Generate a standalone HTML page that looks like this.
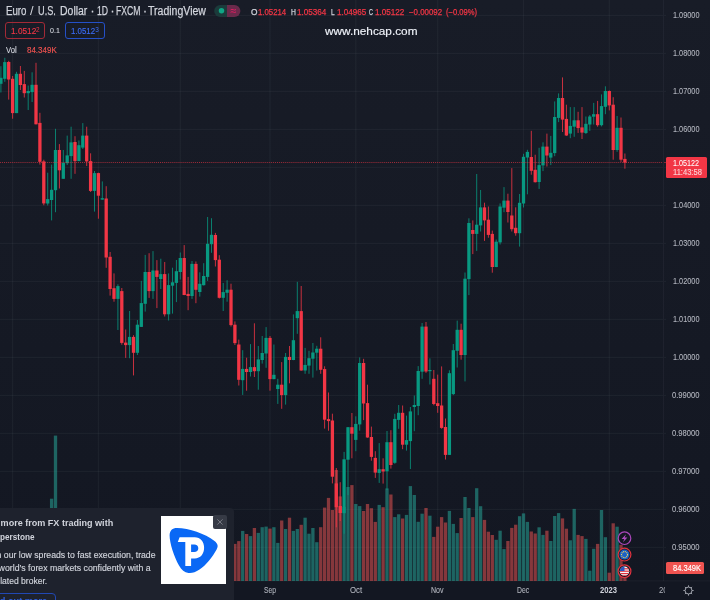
<!DOCTYPE html>
<html lang="en"><head><meta charset="utf-8"><title>EURUSD 1D</title>
<style>
html{margin:0;padding:0;background:#131722;}
body{margin:0;padding:0;background:linear-gradient(to bottom,#181c27 0px,#131722 585px,#131722 600px);}
body{width:710px;height:600px;position:relative;overflow:hidden;font-family:"Liberation Sans",sans-serif;color:#d1d4dc;}
.abs{position:absolute;white-space:nowrap;}
.t{position:absolute;white-space:pre;transform-origin:0 0;}
#chart{position:absolute;left:0;top:0;width:710px;height:600px;}
.box{position:absolute;top:22.3px;height:14.7px;width:38.2px;border:1px solid;border-radius:3px;}
#ad{position:absolute;left:0;top:507.5px;width:233.6px;height:110px;background:#1e222d;border-radius:0 4px 0 0;overflow:hidden;}
</style></head><body>
<svg id="chart" width="710" height="600" viewBox="0 0 710 600">
<rect x="0" y="14.80" width="663" height="1.3" fill="rgba(240,243,250,0.04)"/>
<rect x="0" y="52.80" width="663" height="1.3" fill="rgba(240,243,250,0.04)"/>
<rect x="0" y="90.80" width="663" height="1.3" fill="rgba(240,243,250,0.04)"/>
<rect x="0" y="128.80" width="663" height="1.3" fill="rgba(240,243,250,0.04)"/>
<rect x="0" y="166.80" width="663" height="1.3" fill="rgba(240,243,250,0.04)"/>
<rect x="0" y="204.80" width="663" height="1.3" fill="rgba(240,243,250,0.04)"/>
<rect x="0" y="242.80" width="663" height="1.3" fill="rgba(240,243,250,0.04)"/>
<rect x="0" y="280.80" width="663" height="1.3" fill="rgba(240,243,250,0.04)"/>
<rect x="0" y="318.80" width="663" height="1.3" fill="rgba(240,243,250,0.04)"/>
<rect x="0" y="356.80" width="663" height="1.3" fill="rgba(240,243,250,0.04)"/>
<rect x="0" y="394.80" width="663" height="1.3" fill="rgba(240,243,250,0.04)"/>
<rect x="0" y="432.80" width="663" height="1.3" fill="rgba(240,243,250,0.04)"/>
<rect x="0" y="470.80" width="663" height="1.3" fill="rgba(240,243,250,0.04)"/>
<rect x="0" y="508.80" width="663" height="1.3" fill="rgba(240,243,250,0.04)"/>
<rect x="0" y="546.80" width="663" height="1.3" fill="rgba(240,243,250,0.04)"/>
<rect x="11.95" y="0" width="1.3" height="581" fill="rgba(240,243,250,0.04)"/>
<rect x="97.75" y="0" width="1.3" height="581" fill="rgba(240,243,250,0.04)"/>
<rect x="179.65" y="0" width="1.3" height="581" fill="rgba(240,243,250,0.04)"/>
<rect x="269.35" y="0" width="1.3" height="581" fill="rgba(240,243,250,0.04)"/>
<rect x="355.15" y="0" width="1.3" height="581" fill="rgba(240,243,250,0.04)"/>
<rect x="437.05" y="0" width="1.3" height="581" fill="rgba(240,243,250,0.04)"/>
<rect x="522.85" y="0" width="1.3" height="581" fill="rgba(240,243,250,0.04)"/>
<rect x="608.65" y="0" width="1.3" height="581" fill="rgba(240,243,250,0.04)"/>
<rect x="49.95" y="498.7" width="3.3" height="82.3" fill="rgba(39,177,162,0.5)"/>
<rect x="53.85" y="435.6" width="3.3" height="145.4" fill="rgba(39,177,162,0.5)"/>
<rect x="233.25" y="543.9" width="3.3" height="37.1" fill="rgba(247,87,86,0.5)"/>
<rect x="237.15" y="541.1" width="3.3" height="39.9" fill="rgba(247,87,86,0.5)"/>
<rect x="241.05" y="530.9" width="3.3" height="50.1" fill="rgba(39,177,162,0.5)"/>
<rect x="244.95" y="534.0" width="3.3" height="47.0" fill="rgba(247,87,86,0.5)"/>
<rect x="248.85" y="536.1" width="3.3" height="44.9" fill="rgba(39,177,162,0.5)"/>
<rect x="252.75" y="528.0" width="3.3" height="53.0" fill="rgba(247,87,86,0.5)"/>
<rect x="256.65" y="532.9" width="3.3" height="48.1" fill="rgba(39,177,162,0.5)"/>
<rect x="260.55" y="527.2" width="3.3" height="53.8" fill="rgba(39,177,162,0.5)"/>
<rect x="264.45" y="526.6" width="3.3" height="54.4" fill="rgba(39,177,162,0.5)"/>
<rect x="268.35" y="528.6" width="3.3" height="52.4" fill="rgba(247,87,86,0.5)"/>
<rect x="272.25" y="527.2" width="3.3" height="53.8" fill="rgba(39,177,162,0.5)"/>
<rect x="276.15" y="542.9" width="3.3" height="38.1" fill="rgba(39,177,162,0.5)"/>
<rect x="280.05" y="520.5" width="3.3" height="60.5" fill="rgba(247,87,86,0.5)"/>
<rect x="283.95" y="529.0" width="3.3" height="52.0" fill="rgba(39,177,162,0.5)"/>
<rect x="287.85" y="517.7" width="3.3" height="63.3" fill="rgba(247,87,86,0.5)"/>
<rect x="291.75" y="530.9" width="3.3" height="50.1" fill="rgba(39,177,162,0.5)"/>
<rect x="295.65" y="529.0" width="3.3" height="52.0" fill="rgba(39,177,162,0.5)"/>
<rect x="299.55" y="524.8" width="3.3" height="56.2" fill="rgba(247,87,86,0.5)"/>
<rect x="303.45" y="517.7" width="3.3" height="63.3" fill="rgba(39,177,162,0.5)"/>
<rect x="307.35" y="533.7" width="3.3" height="47.3" fill="rgba(39,177,162,0.5)"/>
<rect x="311.25" y="528.0" width="3.3" height="53.0" fill="rgba(39,177,162,0.5)"/>
<rect x="315.15" y="542.2" width="3.3" height="38.8" fill="rgba(39,177,162,0.5)"/>
<rect x="319.05" y="527.2" width="3.3" height="53.8" fill="rgba(247,87,86,0.5)"/>
<rect x="322.95" y="507.6" width="3.3" height="73.4" fill="rgba(247,87,86,0.5)"/>
<rect x="326.85" y="497.9" width="3.3" height="83.1" fill="rgba(247,87,86,0.5)"/>
<rect x="330.75" y="510.0" width="3.3" height="71.0" fill="rgba(247,87,86,0.5)"/>
<rect x="334.65" y="470.0" width="3.3" height="111.0" fill="rgba(247,87,86,0.5)"/>
<rect x="338.55" y="496.4" width="3.3" height="84.6" fill="rgba(247,87,86,0.5)"/>
<rect x="342.45" y="507.0" width="3.3" height="74.0" fill="rgba(39,177,162,0.5)"/>
<rect x="346.35" y="487.0" width="3.3" height="94.0" fill="rgba(39,177,162,0.5)"/>
<rect x="350.25" y="485.1" width="3.3" height="95.9" fill="rgba(247,87,86,0.5)"/>
<rect x="354.15" y="504.0" width="3.3" height="77.0" fill="rgba(39,177,162,0.5)"/>
<rect x="358.05" y="506.1" width="3.3" height="74.9" fill="rgba(39,177,162,0.5)"/>
<rect x="361.95" y="511.0" width="3.3" height="70.0" fill="rgba(247,87,86,0.5)"/>
<rect x="365.85" y="504.0" width="3.3" height="77.0" fill="rgba(247,87,86,0.5)"/>
<rect x="369.75" y="508.2" width="3.3" height="72.8" fill="rgba(247,87,86,0.5)"/>
<rect x="373.65" y="521.9" width="3.3" height="59.1" fill="rgba(247,87,86,0.5)"/>
<rect x="377.55" y="504.9" width="3.3" height="76.1" fill="rgba(39,177,162,0.5)"/>
<rect x="381.45" y="507.2" width="3.3" height="73.8" fill="rgba(247,87,86,0.5)"/>
<rect x="385.35" y="488.4" width="3.3" height="92.6" fill="rgba(39,177,162,0.5)"/>
<rect x="389.25" y="494.5" width="3.3" height="86.5" fill="rgba(247,87,86,0.5)"/>
<rect x="393.15" y="517.1" width="3.3" height="63.9" fill="rgba(39,177,162,0.5)"/>
<rect x="397.05" y="514.3" width="3.3" height="66.7" fill="rgba(39,177,162,0.5)"/>
<rect x="400.95" y="518.5" width="3.3" height="62.5" fill="rgba(247,87,86,0.5)"/>
<rect x="404.85" y="514.9" width="3.3" height="66.1" fill="rgba(39,177,162,0.5)"/>
<rect x="408.75" y="486.1" width="3.3" height="94.9" fill="rgba(39,177,162,0.5)"/>
<rect x="412.65" y="495.0" width="3.3" height="86.0" fill="rgba(39,177,162,0.5)"/>
<rect x="416.55" y="521.8" width="3.3" height="59.2" fill="rgba(39,177,162,0.5)"/>
<rect x="420.45" y="513.7" width="3.3" height="67.3" fill="rgba(39,177,162,0.5)"/>
<rect x="424.35" y="508.0" width="3.3" height="73.0" fill="rgba(247,87,86,0.5)"/>
<rect x="428.25" y="515.7" width="3.3" height="65.3" fill="rgba(39,177,162,0.5)"/>
<rect x="432.15" y="536.9" width="3.3" height="44.1" fill="rgba(247,87,86,0.5)"/>
<rect x="436.05" y="526.7" width="3.3" height="54.3" fill="rgba(247,87,86,0.5)"/>
<rect x="439.95" y="517.1" width="3.3" height="63.9" fill="rgba(247,87,86,0.5)"/>
<rect x="443.85" y="522.5" width="3.3" height="58.5" fill="rgba(247,87,86,0.5)"/>
<rect x="447.75" y="510.9" width="3.3" height="70.1" fill="rgba(39,177,162,0.5)"/>
<rect x="451.65" y="523.9" width="3.3" height="57.1" fill="rgba(39,177,162,0.5)"/>
<rect x="455.55" y="533.1" width="3.3" height="47.9" fill="rgba(39,177,162,0.5)"/>
<rect x="459.45" y="518.0" width="3.3" height="63.0" fill="rgba(247,87,86,0.5)"/>
<rect x="463.35" y="497.0" width="3.3" height="84.0" fill="rgba(39,177,162,0.5)"/>
<rect x="467.25" y="508.0" width="3.3" height="73.0" fill="rgba(39,177,162,0.5)"/>
<rect x="471.15" y="517.1" width="3.3" height="63.9" fill="rgba(247,87,86,0.5)"/>
<rect x="475.05" y="488.2" width="3.3" height="92.8" fill="rgba(39,177,162,0.5)"/>
<rect x="478.95" y="506.2" width="3.3" height="74.8" fill="rgba(39,177,162,0.5)"/>
<rect x="482.85" y="519.9" width="3.3" height="61.1" fill="rgba(247,87,86,0.5)"/>
<rect x="486.75" y="531.7" width="3.3" height="49.3" fill="rgba(247,87,86,0.5)"/>
<rect x="490.65" y="535.0" width="3.3" height="46.0" fill="rgba(247,87,86,0.5)"/>
<rect x="494.55" y="539.8" width="3.3" height="41.2" fill="rgba(39,177,162,0.5)"/>
<rect x="498.45" y="530.7" width="3.3" height="50.3" fill="rgba(39,177,162,0.5)"/>
<rect x="502.35" y="549.1" width="3.3" height="31.9" fill="rgba(39,177,162,0.5)"/>
<rect x="506.25" y="541.0" width="3.3" height="40.0" fill="rgba(247,87,86,0.5)"/>
<rect x="510.15" y="527.9" width="3.3" height="53.1" fill="rgba(247,87,86,0.5)"/>
<rect x="514.05" y="524.7" width="3.3" height="56.3" fill="rgba(247,87,86,0.5)"/>
<rect x="517.95" y="516.2" width="3.3" height="64.8" fill="rgba(39,177,162,0.5)"/>
<rect x="521.85" y="513.4" width="3.3" height="67.6" fill="rgba(39,177,162,0.5)"/>
<rect x="525.75" y="521.9" width="3.3" height="59.1" fill="rgba(39,177,162,0.5)"/>
<rect x="529.65" y="531.5" width="3.3" height="49.5" fill="rgba(247,87,86,0.5)"/>
<rect x="533.55" y="533.5" width="3.3" height="47.5" fill="rgba(247,87,86,0.5)"/>
<rect x="537.45" y="527.3" width="3.3" height="53.7" fill="rgba(39,177,162,0.5)"/>
<rect x="541.35" y="534.9" width="3.3" height="46.1" fill="rgba(39,177,162,0.5)"/>
<rect x="545.25" y="530.7" width="3.3" height="50.3" fill="rgba(247,87,86,0.5)"/>
<rect x="549.15" y="541.0" width="3.3" height="40.0" fill="rgba(39,177,162,0.5)"/>
<rect x="553.05" y="516.0" width="3.3" height="65.0" fill="rgba(39,177,162,0.5)"/>
<rect x="556.95" y="513.1" width="3.3" height="67.9" fill="rgba(39,177,162,0.5)"/>
<rect x="560.85" y="518.4" width="3.3" height="62.6" fill="rgba(247,87,86,0.5)"/>
<rect x="564.75" y="528.7" width="3.3" height="52.3" fill="rgba(247,87,86,0.5)"/>
<rect x="568.65" y="540.3" width="3.3" height="40.7" fill="rgba(39,177,162,0.5)"/>
<rect x="572.55" y="508.9" width="3.3" height="72.1" fill="rgba(39,177,162,0.5)"/>
<rect x="576.45" y="534.9" width="3.3" height="46.1" fill="rgba(247,87,86,0.5)"/>
<rect x="580.35" y="536.1" width="3.3" height="44.9" fill="rgba(247,87,86,0.5)"/>
<rect x="584.25" y="538.9" width="3.3" height="42.1" fill="rgba(39,177,162,0.5)"/>
<rect x="588.15" y="570.7" width="3.3" height="10.3" fill="rgba(39,177,162,0.5)"/>
<rect x="592.05" y="548.8" width="3.3" height="32.2" fill="rgba(39,177,162,0.5)"/>
<rect x="595.95" y="543.9" width="3.3" height="37.1" fill="rgba(247,87,86,0.5)"/>
<rect x="599.85" y="510.0" width="3.3" height="71.0" fill="rgba(39,177,162,0.5)"/>
<rect x="603.75" y="537.2" width="3.3" height="43.8" fill="rgba(39,177,162,0.5)"/>
<rect x="607.65" y="572.7" width="3.3" height="8.3" fill="rgba(247,87,86,0.5)"/>
<rect x="611.55" y="523.3" width="3.3" height="57.7" fill="rgba(247,87,86,0.5)"/>
<rect x="615.45" y="526.7" width="3.3" height="54.3" fill="rgba(39,177,162,0.5)"/>
<rect x="619.35" y="544.8" width="3.3" height="36.2" fill="rgba(247,87,86,0.5)"/>
<rect x="623.25" y="570.0" width="3.3" height="11.0" fill="rgba(247,87,86,0.5)"/>
<rect x="0.40" y="66.2" width="1" height="26.3" fill="#089981" opacity="0.8"/>
<rect x="-0.75" y="77.8" width="3.3" height="6.0" fill="#089981"/>
<rect x="4.30" y="57.8" width="1" height="24.0" fill="#089981" opacity="0.8"/>
<rect x="3.15" y="62.1" width="3.3" height="16.7" fill="#089981"/>
<rect x="8.20" y="60.8" width="1" height="38.8" fill="#f23645" opacity="0.8"/>
<rect x="7.05" y="62.0" width="3.3" height="17.5" fill="#f23645"/>
<rect x="12.10" y="76.0" width="1" height="42.7" fill="#f23645" opacity="0.8"/>
<rect x="10.95" y="78.8" width="3.3" height="34.3" fill="#f23645"/>
<rect x="16.00" y="71.8" width="1" height="41.3" fill="#089981" opacity="0.8"/>
<rect x="14.85" y="73.8" width="3.3" height="39.3" fill="#089981"/>
<rect x="19.90" y="66.0" width="1" height="24.0" fill="#f23645" opacity="0.8"/>
<rect x="18.75" y="73.8" width="3.3" height="11.2" fill="#f23645"/>
<rect x="23.80" y="70.9" width="1" height="26.6" fill="#f23645" opacity="0.8"/>
<rect x="22.65" y="84.1" width="3.3" height="9.1" fill="#f23645"/>
<rect x="27.70" y="85.5" width="1" height="24.5" fill="#089981" opacity="0.8"/>
<rect x="26.55" y="91.0" width="3.3" height="2.2" fill="#089981"/>
<rect x="31.60" y="72.3" width="1" height="29.7" fill="#089981" opacity="0.8"/>
<rect x="30.45" y="84.8" width="3.3" height="7.3" fill="#089981"/>
<rect x="35.50" y="62.8" width="1" height="61.6" fill="#f23645" opacity="0.8"/>
<rect x="34.35" y="84.8" width="3.3" height="39.5" fill="#f23645"/>
<rect x="39.40" y="112.8" width="1" height="51.8" fill="#f23645" opacity="0.8"/>
<rect x="38.25" y="122.9" width="3.3" height="38.9" fill="#f23645"/>
<rect x="43.30" y="159.7" width="1" height="45.6" fill="#f23645" opacity="0.8"/>
<rect x="42.15" y="161.4" width="3.3" height="42.0" fill="#f23645"/>
<rect x="47.20" y="172.7" width="1" height="32.8" fill="#089981" opacity="0.8"/>
<rect x="46.05" y="199.1" width="3.3" height="4.4" fill="#089981"/>
<rect x="51.10" y="164.6" width="1" height="55.8" fill="#089981" opacity="0.8"/>
<rect x="49.95" y="189.8" width="3.3" height="10.2" fill="#089981"/>
<rect x="55.00" y="128.8" width="1" height="83.4" fill="#089981" opacity="0.8"/>
<rect x="53.85" y="150.0" width="3.3" height="40.2" fill="#089981"/>
<rect x="58.90" y="144.1" width="1" height="44.4" fill="#f23645" opacity="0.8"/>
<rect x="57.75" y="150.0" width="3.3" height="20.3" fill="#f23645"/>
<rect x="62.80" y="150.0" width="1" height="28.8" fill="#089981" opacity="0.8"/>
<rect x="61.65" y="162.8" width="3.3" height="16.0" fill="#089981"/>
<rect x="66.70" y="135.6" width="1" height="29.4" fill="#089981" opacity="0.8"/>
<rect x="65.55" y="155.4" width="3.3" height="7.8" fill="#089981"/>
<rect x="70.60" y="126.7" width="1" height="52.1" fill="#089981" opacity="0.8"/>
<rect x="69.45" y="142.4" width="3.3" height="13.7" fill="#089981"/>
<rect x="74.50" y="136.2" width="1" height="37.6" fill="#f23645" opacity="0.8"/>
<rect x="73.35" y="142.0" width="3.3" height="19.1" fill="#f23645"/>
<rect x="78.40" y="140.5" width="1" height="20.6" fill="#089981" opacity="0.8"/>
<rect x="77.25" y="145.2" width="3.3" height="15.9" fill="#089981"/>
<rect x="82.30" y="123.1" width="1" height="25.9" fill="#089981" opacity="0.8"/>
<rect x="81.15" y="135.6" width="3.3" height="12.0" fill="#089981"/>
<rect x="86.20" y="126.7" width="1" height="39.3" fill="#f23645" opacity="0.8"/>
<rect x="85.05" y="135.6" width="3.3" height="25.8" fill="#f23645"/>
<rect x="90.10" y="153.3" width="1" height="38.7" fill="#f23645" opacity="0.8"/>
<rect x="88.95" y="161.1" width="3.3" height="29.8" fill="#f23645"/>
<rect x="94.00" y="171.0" width="1" height="40.6" fill="#089981" opacity="0.8"/>
<rect x="92.85" y="173.1" width="3.3" height="17.8" fill="#089981"/>
<rect x="97.90" y="172.7" width="1" height="46.0" fill="#f23645" opacity="0.8"/>
<rect x="96.75" y="173.1" width="3.3" height="22.6" fill="#f23645"/>
<rect x="101.80" y="181.4" width="1" height="18.4" fill="#089981" opacity="0.8"/>
<rect x="100.65" y="198.2" width="3.3" height="1.4" fill="#089981"/>
<rect x="105.70" y="186.2" width="1" height="81.6" fill="#f23645" opacity="0.8"/>
<rect x="104.55" y="198.5" width="3.3" height="59.0" fill="#f23645"/>
<rect x="109.60" y="252.0" width="1" height="43.6" fill="#f23645" opacity="0.8"/>
<rect x="108.45" y="256.8" width="3.3" height="32.2" fill="#f23645"/>
<rect x="113.50" y="273.4" width="1" height="28.3" fill="#f23645" opacity="0.8"/>
<rect x="112.35" y="288.2" width="3.3" height="10.7" fill="#f23645"/>
<rect x="117.40" y="284.3" width="1" height="45.7" fill="#089981" opacity="0.8"/>
<rect x="116.25" y="286.1" width="3.3" height="12.8" fill="#089981"/>
<rect x="121.30" y="288.0" width="1" height="56.7" fill="#f23645" opacity="0.8"/>
<rect x="120.15" y="291.1" width="3.3" height="51.8" fill="#f23645"/>
<rect x="125.20" y="329.5" width="1" height="28.4" fill="#f23645" opacity="0.8"/>
<rect x="124.05" y="342.6" width="3.3" height="2.5" fill="#f23645"/>
<rect x="129.10" y="311.0" width="1" height="47.2" fill="#089981" opacity="0.8"/>
<rect x="127.95" y="336.9" width="3.3" height="8.2" fill="#089981"/>
<rect x="133.00" y="335.2" width="1" height="40.2" fill="#f23645" opacity="0.8"/>
<rect x="131.85" y="336.9" width="3.3" height="15.9" fill="#f23645"/>
<rect x="136.90" y="320.0" width="1" height="35.0" fill="#089981" opacity="0.8"/>
<rect x="135.75" y="324.7" width="3.3" height="28.1" fill="#089981"/>
<rect x="140.80" y="280.9" width="1" height="46.1" fill="#089981" opacity="0.8"/>
<rect x="139.65" y="303.1" width="3.3" height="23.8" fill="#089981"/>
<rect x="144.70" y="254.9" width="1" height="56.7" fill="#089981" opacity="0.8"/>
<rect x="143.55" y="272.0" width="3.3" height="31.8" fill="#089981"/>
<rect x="148.60" y="253.2" width="1" height="44.7" fill="#f23645" opacity="0.8"/>
<rect x="147.45" y="272.0" width="3.3" height="19.1" fill="#f23645"/>
<rect x="152.50" y="251.1" width="1" height="47.8" fill="#089981" opacity="0.8"/>
<rect x="151.35" y="270.5" width="3.3" height="20.6" fill="#089981"/>
<rect x="156.40" y="260.1" width="1" height="48.0" fill="#f23645" opacity="0.8"/>
<rect x="155.25" y="270.5" width="3.3" height="6.4" fill="#f23645"/>
<rect x="160.30" y="258.7" width="1" height="30.3" fill="#089981" opacity="0.8"/>
<rect x="159.15" y="274.1" width="3.3" height="4.9" fill="#089981"/>
<rect x="164.20" y="262.0" width="1" height="54.5" fill="#f23645" opacity="0.8"/>
<rect x="163.05" y="274.1" width="3.3" height="40.2" fill="#f23645"/>
<rect x="168.10" y="273.4" width="1" height="47.1" fill="#089981" opacity="0.8"/>
<rect x="166.95" y="285.1" width="3.3" height="29.2" fill="#089981"/>
<rect x="172.00" y="267.7" width="1" height="45.9" fill="#089981" opacity="0.8"/>
<rect x="170.85" y="282.3" width="3.3" height="3.4" fill="#089981"/>
<rect x="175.90" y="260.0" width="1" height="42.1" fill="#089981" opacity="0.8"/>
<rect x="174.75" y="271.2" width="3.3" height="11.7" fill="#089981"/>
<rect x="179.80" y="252.5" width="1" height="27.0" fill="#089981" opacity="0.8"/>
<rect x="178.65" y="258.0" width="3.3" height="14.0" fill="#089981"/>
<rect x="183.70" y="245.1" width="1" height="50.1" fill="#f23645" opacity="0.8"/>
<rect x="182.55" y="258.0" width="3.3" height="37.0" fill="#f23645"/>
<rect x="187.60" y="276.9" width="1" height="33.3" fill="#f23645" opacity="0.8"/>
<rect x="186.45" y="293.9" width="3.3" height="2.1" fill="#f23645"/>
<rect x="191.50" y="261.0" width="1" height="37.9" fill="#089981" opacity="0.8"/>
<rect x="190.35" y="263.9" width="3.3" height="32.1" fill="#089981"/>
<rect x="195.40" y="261.5" width="1" height="41.7" fill="#f23645" opacity="0.8"/>
<rect x="194.25" y="263.9" width="3.3" height="25.9" fill="#f23645"/>
<rect x="199.30" y="272.3" width="1" height="24.3" fill="#089981" opacity="0.8"/>
<rect x="198.15" y="283.8" width="3.3" height="8.2" fill="#089981"/>
<rect x="203.20" y="263.2" width="1" height="22.3" fill="#089981" opacity="0.8"/>
<rect x="202.05" y="276.0" width="3.3" height="9.2" fill="#089981"/>
<rect x="207.10" y="217.0" width="1" height="63.9" fill="#089981" opacity="0.8"/>
<rect x="205.95" y="243.8" width="3.3" height="33.1" fill="#089981"/>
<rect x="211.00" y="218.2" width="1" height="34.6" fill="#089981" opacity="0.8"/>
<rect x="209.85" y="234.8" width="3.3" height="9.4" fill="#089981"/>
<rect x="214.90" y="232.9" width="1" height="33.6" fill="#f23645" opacity="0.8"/>
<rect x="213.75" y="235.0" width="3.3" height="25.1" fill="#f23645"/>
<rect x="218.80" y="255.2" width="1" height="43.3" fill="#f23645" opacity="0.8"/>
<rect x="217.65" y="259.7" width="3.3" height="38.1" fill="#f23645"/>
<rect x="222.70" y="283.0" width="1" height="28.0" fill="#089981" opacity="0.8"/>
<rect x="221.55" y="292.1" width="3.3" height="5.7" fill="#089981"/>
<rect x="226.60" y="280.2" width="1" height="21.5" fill="#089981" opacity="0.8"/>
<rect x="225.45" y="289.7" width="3.3" height="3.1" fill="#089981"/>
<rect x="230.50" y="283.7" width="1" height="42.8" fill="#f23645" opacity="0.8"/>
<rect x="229.35" y="289.7" width="3.3" height="35.4" fill="#f23645"/>
<rect x="234.40" y="321.4" width="1" height="23.6" fill="#f23645" opacity="0.8"/>
<rect x="233.25" y="324.7" width="3.3" height="18.4" fill="#f23645"/>
<rect x="238.30" y="339.6" width="1" height="45.9" fill="#f23645" opacity="0.8"/>
<rect x="237.15" y="344.5" width="3.3" height="35.3" fill="#f23645"/>
<rect x="242.20" y="350.2" width="1" height="44.7" fill="#089981" opacity="0.8"/>
<rect x="241.05" y="368.9" width="3.3" height="11.3" fill="#089981"/>
<rect x="246.10" y="357.7" width="1" height="33.0" fill="#f23645" opacity="0.8"/>
<rect x="244.95" y="368.9" width="3.3" height="3.1" fill="#f23645"/>
<rect x="250.00" y="344.1" width="1" height="32.4" fill="#089981" opacity="0.8"/>
<rect x="248.85" y="367.1" width="3.3" height="4.9" fill="#089981"/>
<rect x="253.90" y="323.3" width="1" height="53.7" fill="#f23645" opacity="0.8"/>
<rect x="252.75" y="367.1" width="3.3" height="4.1" fill="#f23645"/>
<rect x="257.80" y="346.0" width="1" height="43.7" fill="#089981" opacity="0.8"/>
<rect x="256.65" y="359.4" width="3.3" height="11.8" fill="#089981"/>
<rect x="261.70" y="336.0" width="1" height="27.6" fill="#089981" opacity="0.8"/>
<rect x="260.55" y="353.0" width="3.3" height="7.0" fill="#089981"/>
<rect x="265.60" y="327.1" width="1" height="40.7" fill="#089981" opacity="0.8"/>
<rect x="264.45" y="337.9" width="3.3" height="15.6" fill="#089981"/>
<rect x="269.50" y="336.0" width="1" height="54.7" fill="#f23645" opacity="0.8"/>
<rect x="268.35" y="337.9" width="3.3" height="41.2" fill="#f23645"/>
<rect x="273.40" y="344.5" width="1" height="34.8" fill="#089981" opacity="0.8"/>
<rect x="272.25" y="374.8" width="3.3" height="4.3" fill="#089981"/>
<rect x="277.30" y="378.8" width="1" height="25.1" fill="#089981" opacity="0.8"/>
<rect x="276.15" y="384.7" width="3.3" height="4.3" fill="#089981"/>
<rect x="281.20" y="362.1" width="1" height="46.7" fill="#f23645" opacity="0.8"/>
<rect x="280.05" y="384.7" width="3.3" height="10.4" fill="#f23645"/>
<rect x="285.10" y="353.0" width="1" height="51.6" fill="#089981" opacity="0.8"/>
<rect x="283.95" y="356.9" width="3.3" height="38.2" fill="#089981"/>
<rect x="289.00" y="346.0" width="1" height="37.3" fill="#f23645" opacity="0.8"/>
<rect x="287.85" y="356.9" width="3.3" height="3.1" fill="#f23645"/>
<rect x="292.90" y="314.4" width="1" height="45.8" fill="#089981" opacity="0.8"/>
<rect x="291.75" y="340.2" width="3.3" height="19.8" fill="#089981"/>
<rect x="296.80" y="281.8" width="1" height="52.0" fill="#089981" opacity="0.8"/>
<rect x="295.65" y="311.1" width="3.3" height="7.1" fill="#089981"/>
<rect x="300.70" y="286.0" width="1" height="84.7" fill="#f23645" opacity="0.8"/>
<rect x="299.55" y="311.1" width="3.3" height="59.4" fill="#f23645"/>
<rect x="304.60" y="347.9" width="1" height="25.9" fill="#089981" opacity="0.8"/>
<rect x="303.45" y="364.9" width="3.3" height="5.6" fill="#089981"/>
<rect x="308.50" y="350.8" width="1" height="23.0" fill="#089981" opacity="0.8"/>
<rect x="307.35" y="358.2" width="3.3" height="7.4" fill="#089981"/>
<rect x="312.40" y="343.0" width="1" height="34.6" fill="#089981" opacity="0.8"/>
<rect x="311.25" y="352.5" width="3.3" height="6.2" fill="#089981"/>
<rect x="316.30" y="345.8" width="1" height="24.7" fill="#089981" opacity="0.8"/>
<rect x="315.15" y="348.7" width="3.3" height="4.0" fill="#089981"/>
<rect x="320.20" y="337.3" width="1" height="36.5" fill="#f23645" opacity="0.8"/>
<rect x="319.05" y="348.7" width="3.3" height="21.1" fill="#f23645"/>
<rect x="324.10" y="366.3" width="1" height="62.3" fill="#f23645" opacity="0.8"/>
<rect x="322.95" y="369.1" width="3.3" height="50.6" fill="#f23645"/>
<rect x="328.00" y="392.5" width="1" height="38.2" fill="#f23645" opacity="0.8"/>
<rect x="326.85" y="419.1" width="3.3" height="2.0" fill="#f23645"/>
<rect x="331.90" y="413.7" width="1" height="69.7" fill="#f23645" opacity="0.8"/>
<rect x="330.75" y="420.5" width="3.3" height="56.2" fill="#f23645"/>
<rect x="335.80" y="468.0" width="1" height="59.3" fill="#f23645" opacity="0.8"/>
<rect x="334.65" y="483.4" width="3.3" height="23.8" fill="#f23645"/>
<rect x="339.70" y="482.2" width="1" height="38.8" fill="#f23645" opacity="0.8"/>
<rect x="338.55" y="506.0" width="3.3" height="7.0" fill="#f23645"/>
<rect x="343.60" y="451.9" width="1" height="81.8" fill="#089981" opacity="0.8"/>
<rect x="342.45" y="459.3" width="3.3" height="53.9" fill="#089981"/>
<rect x="347.50" y="427.0" width="1" height="68.0" fill="#089981" opacity="0.8"/>
<rect x="346.35" y="427.2" width="3.3" height="32.5" fill="#089981"/>
<rect x="351.40" y="413.0" width="1" height="45.3" fill="#f23645" opacity="0.8"/>
<rect x="350.25" y="427.2" width="3.3" height="6.5" fill="#f23645"/>
<rect x="355.30" y="416.3" width="1" height="34.9" fill="#089981" opacity="0.8"/>
<rect x="354.15" y="423.9" width="3.3" height="16.0" fill="#089981"/>
<rect x="359.20" y="357.4" width="1" height="73.3" fill="#089981" opacity="0.8"/>
<rect x="358.05" y="363.0" width="3.3" height="61.4" fill="#089981"/>
<rect x="363.10" y="358.8" width="1" height="61.3" fill="#f23645" opacity="0.8"/>
<rect x="361.95" y="363.0" width="3.3" height="40.5" fill="#f23645"/>
<rect x="367.00" y="384.7" width="1" height="53.0" fill="#f23645" opacity="0.8"/>
<rect x="365.85" y="403.1" width="3.3" height="34.4" fill="#f23645"/>
<rect x="370.90" y="426.6" width="1" height="34.1" fill="#f23645" opacity="0.8"/>
<rect x="369.75" y="437.0" width="3.3" height="19.9" fill="#f23645"/>
<rect x="374.80" y="451.2" width="1" height="26.7" fill="#f23645" opacity="0.8"/>
<rect x="373.65" y="457.9" width="3.3" height="14.7" fill="#f23645"/>
<rect x="378.70" y="443.1" width="1" height="39.8" fill="#089981" opacity="0.8"/>
<rect x="377.55" y="469.2" width="3.3" height="3.7" fill="#089981"/>
<rect x="382.60" y="458.3" width="1" height="25.3" fill="#f23645" opacity="0.8"/>
<rect x="381.45" y="469.2" width="3.3" height="2.3" fill="#f23645"/>
<rect x="386.50" y="431.0" width="1" height="59.0" fill="#089981" opacity="0.8"/>
<rect x="385.35" y="442.2" width="3.3" height="29.1" fill="#089981"/>
<rect x="390.40" y="430.2" width="1" height="38.4" fill="#f23645" opacity="0.8"/>
<rect x="389.25" y="442.2" width="3.3" height="22.8" fill="#f23645"/>
<rect x="394.30" y="413.8" width="1" height="50.0" fill="#089981" opacity="0.8"/>
<rect x="393.15" y="418.9" width="3.3" height="43.9" fill="#089981"/>
<rect x="398.20" y="405.0" width="1" height="23.8" fill="#089981" opacity="0.8"/>
<rect x="397.05" y="412.8" width="3.3" height="7.1" fill="#089981"/>
<rect x="402.10" y="405.5" width="1" height="43.7" fill="#f23645" opacity="0.8"/>
<rect x="400.95" y="412.8" width="3.3" height="31.9" fill="#f23645"/>
<rect x="406.00" y="415.6" width="1" height="35.0" fill="#089981" opacity="0.8"/>
<rect x="404.85" y="440.1" width="3.3" height="4.6" fill="#089981"/>
<rect x="409.90" y="407.0" width="1" height="62.0" fill="#089981" opacity="0.8"/>
<rect x="408.75" y="411.4" width="3.3" height="29.7" fill="#089981"/>
<rect x="413.80" y="395.5" width="1" height="35.7" fill="#089981" opacity="0.8"/>
<rect x="412.65" y="405.0" width="3.3" height="2.0" fill="#089981"/>
<rect x="417.70" y="366.1" width="1" height="49.1" fill="#089981" opacity="0.8"/>
<rect x="416.55" y="371.0" width="3.3" height="35.0" fill="#089981"/>
<rect x="421.60" y="323.0" width="1" height="55.8" fill="#089981" opacity="0.8"/>
<rect x="420.45" y="326.6" width="3.3" height="45.1" fill="#089981"/>
<rect x="425.50" y="322.0" width="1" height="50.9" fill="#f23645" opacity="0.8"/>
<rect x="424.35" y="326.6" width="3.3" height="44.9" fill="#f23645"/>
<rect x="429.40" y="358.3" width="1" height="26.2" fill="#089981" opacity="0.8"/>
<rect x="428.25" y="370.0" width="3.3" height="1.2" fill="#089981"/>
<rect x="433.30" y="370.0" width="1" height="35.3" fill="#f23645" opacity="0.8"/>
<rect x="432.15" y="378.8" width="3.3" height="25.2" fill="#f23645"/>
<rect x="437.20" y="374.6" width="1" height="38.2" fill="#f23645" opacity="0.8"/>
<rect x="436.05" y="403.2" width="3.3" height="2.8" fill="#f23645"/>
<rect x="441.10" y="366.4" width="1" height="62.4" fill="#f23645" opacity="0.8"/>
<rect x="439.95" y="405.5" width="3.3" height="22.4" fill="#f23645"/>
<rect x="445.00" y="418.5" width="1" height="41.0" fill="#f23645" opacity="0.8"/>
<rect x="443.85" y="427.0" width="3.3" height="27.9" fill="#f23645"/>
<rect x="448.90" y="370.3" width="1" height="84.7" fill="#089981" opacity="0.8"/>
<rect x="447.75" y="373.2" width="3.3" height="81.7" fill="#089981"/>
<rect x="452.80" y="344.0" width="1" height="51.1" fill="#089981" opacity="0.8"/>
<rect x="451.65" y="350.2" width="3.3" height="43.9" fill="#089981"/>
<rect x="456.70" y="320.6" width="1" height="46.9" fill="#089981" opacity="0.8"/>
<rect x="455.55" y="329.8" width="3.3" height="21.0" fill="#089981"/>
<rect x="460.60" y="323.7" width="1" height="36.0" fill="#f23645" opacity="0.8"/>
<rect x="459.45" y="329.8" width="3.3" height="25.2" fill="#f23645"/>
<rect x="464.50" y="272.5" width="1" height="108.9" fill="#089981" opacity="0.8"/>
<rect x="463.35" y="278.7" width="3.3" height="76.3" fill="#089981"/>
<rect x="468.40" y="218.3" width="1" height="76.8" fill="#089981" opacity="0.8"/>
<rect x="467.25" y="223.0" width="3.3" height="56.1" fill="#089981"/>
<rect x="472.30" y="220.4" width="1" height="33.7" fill="#f23645" opacity="0.8"/>
<rect x="471.15" y="230.0" width="3.3" height="3.9" fill="#f23645"/>
<rect x="476.20" y="174.0" width="1" height="76.9" fill="#089981" opacity="0.8"/>
<rect x="475.05" y="224.7" width="3.3" height="9.2" fill="#089981"/>
<rect x="480.10" y="190.0" width="1" height="41.5" fill="#089981" opacity="0.8"/>
<rect x="478.95" y="207.4" width="3.3" height="18.0" fill="#089981"/>
<rect x="484.00" y="202.7" width="1" height="38.2" fill="#f23645" opacity="0.8"/>
<rect x="482.85" y="207.4" width="3.3" height="13.0" fill="#f23645"/>
<rect x="487.90" y="206.5" width="1" height="31.2" fill="#f23645" opacity="0.8"/>
<rect x="486.75" y="219.7" width="3.3" height="15.2" fill="#f23645"/>
<rect x="491.80" y="230.6" width="1" height="42.1" fill="#f23645" opacity="0.8"/>
<rect x="490.65" y="233.9" width="3.3" height="33.1" fill="#f23645"/>
<rect x="495.70" y="239.5" width="1" height="27.7" fill="#089981" opacity="0.8"/>
<rect x="494.55" y="241.7" width="3.3" height="25.3" fill="#089981"/>
<rect x="499.60" y="203.4" width="1" height="41.1" fill="#089981" opacity="0.8"/>
<rect x="498.45" y="206.5" width="3.3" height="35.9" fill="#089981"/>
<rect x="503.50" y="187.1" width="1" height="25.1" fill="#089981" opacity="0.8"/>
<rect x="502.35" y="200.6" width="3.3" height="7.1" fill="#089981"/>
<rect x="507.40" y="193.7" width="1" height="28.8" fill="#f23645" opacity="0.8"/>
<rect x="506.25" y="200.6" width="3.3" height="11.4" fill="#f23645"/>
<rect x="511.30" y="168.1" width="1" height="63.4" fill="#f23645" opacity="0.8"/>
<rect x="510.15" y="215.5" width="3.3" height="13.7" fill="#f23645"/>
<rect x="515.20" y="207.3" width="1" height="28.4" fill="#f23645" opacity="0.8"/>
<rect x="514.05" y="227.8" width="3.3" height="5.4" fill="#f23645"/>
<rect x="519.10" y="194.0" width="1" height="52.6" fill="#089981" opacity="0.8"/>
<rect x="517.95" y="202.8" width="3.3" height="30.4" fill="#089981"/>
<rect x="523.00" y="153.8" width="1" height="53.7" fill="#089981" opacity="0.8"/>
<rect x="521.85" y="156.8" width="3.3" height="46.7" fill="#089981"/>
<rect x="526.90" y="149.8" width="1" height="44.5" fill="#089981" opacity="0.8"/>
<rect x="525.75" y="151.9" width="3.3" height="5.6" fill="#089981"/>
<rect x="530.80" y="130.8" width="1" height="43.9" fill="#f23645" opacity="0.8"/>
<rect x="529.65" y="157.0" width="3.3" height="13.8" fill="#f23645"/>
<rect x="534.70" y="154.7" width="1" height="27.8" fill="#f23645" opacity="0.8"/>
<rect x="533.55" y="169.8" width="3.3" height="12.4" fill="#f23645"/>
<rect x="538.60" y="147.8" width="1" height="41.1" fill="#089981" opacity="0.8"/>
<rect x="537.45" y="165.1" width="3.3" height="16.9" fill="#089981"/>
<rect x="542.50" y="142.3" width="1" height="28.8" fill="#089981" opacity="0.8"/>
<rect x="541.35" y="146.6" width="3.3" height="18.8" fill="#089981"/>
<rect x="546.40" y="133.6" width="1" height="32.9" fill="#f23645" opacity="0.8"/>
<rect x="545.25" y="146.6" width="3.3" height="8.9" fill="#f23645"/>
<rect x="550.30" y="135.9" width="1" height="29.2" fill="#089981" opacity="0.8"/>
<rect x="549.15" y="152.8" width="3.3" height="4.8" fill="#089981"/>
<rect x="554.20" y="101.4" width="1" height="54.8" fill="#089981" opacity="0.8"/>
<rect x="553.05" y="117.0" width="3.3" height="36.1" fill="#089981"/>
<rect x="558.10" y="93.4" width="1" height="28.7" fill="#089981" opacity="0.8"/>
<rect x="556.95" y="98.0" width="3.3" height="19.9" fill="#089981"/>
<rect x="562.00" y="77.4" width="1" height="54.6" fill="#f23645" opacity="0.8"/>
<rect x="560.85" y="98.0" width="3.3" height="21.6" fill="#f23645"/>
<rect x="565.90" y="104.7" width="1" height="31.2" fill="#f23645" opacity="0.8"/>
<rect x="564.75" y="118.9" width="3.3" height="16.6" fill="#f23645"/>
<rect x="569.80" y="107.1" width="1" height="31.1" fill="#089981" opacity="0.8"/>
<rect x="568.65" y="125.9" width="3.3" height="7.7" fill="#089981"/>
<rect x="573.70" y="107.1" width="1" height="29.7" fill="#089981" opacity="0.8"/>
<rect x="572.55" y="120.3" width="3.3" height="6.4" fill="#089981"/>
<rect x="577.60" y="111.8" width="1" height="21.1" fill="#f23645" opacity="0.8"/>
<rect x="576.45" y="120.3" width="3.3" height="7.8" fill="#f23645"/>
<rect x="581.50" y="107.1" width="1" height="31.9" fill="#f23645" opacity="0.8"/>
<rect x="580.35" y="127.4" width="3.3" height="5.2" fill="#f23645"/>
<rect x="585.40" y="116.5" width="1" height="17.5" fill="#089981" opacity="0.8"/>
<rect x="584.25" y="123.8" width="3.3" height="9.2" fill="#089981"/>
<rect x="589.30" y="115.0" width="1" height="15.9" fill="#089981" opacity="0.8"/>
<rect x="588.15" y="116.5" width="3.3" height="8.0" fill="#089981"/>
<rect x="593.20" y="102.9" width="1" height="21.6" fill="#089981" opacity="0.8"/>
<rect x="592.05" y="114.2" width="3.3" height="2.5" fill="#089981"/>
<rect x="597.10" y="100.9" width="1" height="25.8" fill="#f23645" opacity="0.8"/>
<rect x="595.95" y="114.2" width="3.3" height="11.0" fill="#f23645"/>
<rect x="601.00" y="94.4" width="1" height="32.0" fill="#089981" opacity="0.8"/>
<rect x="599.85" y="106.1" width="3.3" height="19.1" fill="#089981"/>
<rect x="604.90" y="86.3" width="1" height="27.9" fill="#089981" opacity="0.8"/>
<rect x="603.75" y="91.0" width="3.3" height="15.8" fill="#089981"/>
<rect x="608.80" y="90.5" width="1" height="19.9" fill="#f23645" opacity="0.8"/>
<rect x="607.65" y="91.0" width="3.3" height="14.4" fill="#f23645"/>
<rect x="612.70" y="97.2" width="1" height="62.5" fill="#f23645" opacity="0.8"/>
<rect x="611.55" y="104.7" width="3.3" height="45.3" fill="#f23645"/>
<rect x="616.60" y="116.0" width="1" height="35.8" fill="#089981" opacity="0.8"/>
<rect x="615.45" y="127.8" width="3.3" height="22.2" fill="#089981"/>
<rect x="620.50" y="117.5" width="1" height="44.4" fill="#f23645" opacity="0.8"/>
<rect x="619.35" y="127.8" width="3.3" height="31.9" fill="#f23645"/>
<rect x="624.40" y="153.5" width="1" height="15.2" fill="#f23645" opacity="0.8"/>
<rect x="623.25" y="158.9" width="3.3" height="3.7" fill="#f23645"/>
<line x1="0.1" y1="162.5" x2="663" y2="162.5" stroke="#f23645" stroke-width="1.1" stroke-dasharray="0.975 0.975" opacity="0.62"/>
<rect x="663" y="0" width="1.1" height="581" fill="rgba(240,243,250,0.042)"/>
<rect x="0" y="580.4" width="710" height="1" fill="rgba(240,243,250,0.042)"/>
<rect x="664.1" y="14.80" width="2" height="1.3" fill="rgba(240,243,250,0.04)"/>
<rect x="664.1" y="52.80" width="2" height="1.3" fill="rgba(240,243,250,0.04)"/>
<rect x="664.1" y="90.80" width="2" height="1.3" fill="rgba(240,243,250,0.04)"/>
<rect x="664.1" y="128.80" width="2" height="1.3" fill="rgba(240,243,250,0.04)"/>
<rect x="664.1" y="166.80" width="2" height="1.3" fill="rgba(240,243,250,0.04)"/>
<rect x="664.1" y="204.80" width="2" height="1.3" fill="rgba(240,243,250,0.04)"/>
<rect x="664.1" y="242.80" width="2" height="1.3" fill="rgba(240,243,250,0.04)"/>
<rect x="664.1" y="280.80" width="2" height="1.3" fill="rgba(240,243,250,0.04)"/>
<rect x="664.1" y="318.80" width="2" height="1.3" fill="rgba(240,243,250,0.04)"/>
<rect x="664.1" y="356.80" width="2" height="1.3" fill="rgba(240,243,250,0.04)"/>
<rect x="664.1" y="394.80" width="2" height="1.3" fill="rgba(240,243,250,0.04)"/>
<rect x="664.1" y="432.80" width="2" height="1.3" fill="rgba(240,243,250,0.04)"/>
<rect x="664.1" y="470.80" width="2" height="1.3" fill="rgba(240,243,250,0.04)"/>
<rect x="664.1" y="508.80" width="2" height="1.3" fill="rgba(240,243,250,0.04)"/>
<rect x="664.1" y="546.80" width="2" height="1.3" fill="rgba(240,243,250,0.04)"/>
<rect x="664" y="162" width="2" height="1" fill="#f23645" opacity="0.5"/>
</svg>
<svg class="abs" style="left:212px;top:2px" width="32" height="18" viewBox="212 2 32 18">
  <clipPath id="pc"><rect x="214.2" y="4.9" width="26.2" height="12" rx="6" ry="6"/></clipPath>
  <g clip-path="url(#pc)"><rect x="214" y="4" width="13" height="14" fill="#1b3b3b"/><rect x="227" y="4" width="14" height="14" fill="#6a2a4b"/></g>
  <circle cx="221.5" cy="10.85" r="2.75" fill="#10a685"/>
  <path d="M230.6 9.9 Q231.9 8.8 233.3 9.7 T236 9.5 M230.6 12.3 Q231.9 11.2 233.3 12.1 T236 11.9" stroke="#e01e62" stroke-width="1" fill="none"/>
</svg>
<div class="box" style="left:5.0px;border-color:#a32a36;"></div>
<div class="box" style="left:64.8px;border-color:#2450c8;"></div>
<div class="t" style="left:6.06px;top:5px;font-size:12.0px;line-height:12.0px;color:#d1d4dc;transform:scaleX(0.8085);-webkit-text-stroke:0.25px #d1d4dc;">Euro</div>
<div class="t" style="left:29.51px;top:5px;font-size:12.0px;line-height:12.0px;color:#d1d4dc;transform:scaleX(1.0667);">/</div>
<div class="t" style="left:38.13px;top:5px;font-size:12.0px;line-height:12.0px;color:#d1d4dc;transform:scaleX(0.7648);-webkit-text-stroke:0.25px #d1d4dc;">U.S.</div>
<div class="t" style="left:60.06px;top:5px;font-size:12.0px;line-height:12.0px;color:#d1d4dc;transform:scaleX(0.8721);-webkit-text-stroke:0.25px #d1d4dc;">Dollar</div>
<div class="t" style="left:90.50px;top:5px;font-size:12.0px;line-height:12.0px;color:#d1d4dc;transform:scaleX(1.0000);-webkit-text-stroke:0.25px #d1d4dc;">·</div>
<div class="t" style="left:96.68px;top:5px;font-size:12.0px;line-height:12.0px;color:#d1d4dc;transform:scaleX(0.7225);-webkit-text-stroke:0.25px #d1d4dc;">1D</div>
<div class="t" style="left:110.40px;top:5px;font-size:12.0px;line-height:12.0px;color:#d1d4dc;transform:scaleX(1.0000);-webkit-text-stroke:0.25px #d1d4dc;">·</div>
<div class="t" style="left:115.71px;top:5px;font-size:12.0px;line-height:12.0px;color:#d1d4dc;transform:scaleX(0.7200);-webkit-text-stroke:0.25px #d1d4dc;">FXCM</div>
<div class="t" style="left:142.90px;top:5px;font-size:12.0px;line-height:12.0px;color:#d1d4dc;transform:scaleX(1.0000);-webkit-text-stroke:0.25px #d1d4dc;">·</div>
<div class="t" style="left:148.46px;top:5px;font-size:12.0px;line-height:12.0px;color:#d1d4dc;transform:scaleX(0.8777);-webkit-text-stroke:0.25px #d1d4dc;">TradingView</div>
<div class="t" style="left:251.00px;top:8px;font-size:8.3px;line-height:8.3px;color:#d1d4dc;transform:scaleX(1.0000);-webkit-text-stroke:0.25px #d1d4dc;">O</div>
<div class="t" style="left:258.00px;top:8px;font-size:8.3px;line-height:8.3px;color:#f23645;transform:scaleX(0.9403);-webkit-text-stroke:0.25px #f23645;">1.05214</div>
<div class="t" style="left:291.00px;top:8px;font-size:8.3px;line-height:8.3px;color:#d1d4dc;transform:scaleX(0.8133);-webkit-text-stroke:0.25px #d1d4dc;">H</div>
<div class="t" style="left:297.02px;top:8px;font-size:8.3px;line-height:8.3px;color:#f23645;transform:scaleX(0.9801);-webkit-text-stroke:0.25px #f23645;">1.05364</div>
<div class="t" style="left:330.84px;top:8px;font-size:8.3px;line-height:8.3px;color:#d1d4dc;transform:scaleX(0.7809);-webkit-text-stroke:0.25px #d1d4dc;">L</div>
<div class="t" style="left:336.50px;top:8px;font-size:8.3px;line-height:8.3px;color:#f23645;transform:scaleX(0.9739);-webkit-text-stroke:0.25px #f23645;">1.04965</div>
<div class="t" style="left:369.43px;top:8px;font-size:8.3px;line-height:8.3px;color:#d1d4dc;transform:scaleX(0.6483);-webkit-text-stroke:0.25px #d1d4dc;">C</div>
<div class="t" style="left:374.99px;top:8px;font-size:8.3px;line-height:8.3px;color:#f23645;transform:scaleX(0.9801);-webkit-text-stroke:0.25px #f23645;">1.05122</div>
<div class="t" style="left:409.00px;top:8px;font-size:8.3px;line-height:8.3px;color:#f23645;transform:scaleX(0.9489);-webkit-text-stroke:0.25px #f23645;">−0.00092</div>
<div class="t" style="left:445.97px;top:8px;font-size:8.3px;line-height:8.3px;color:#f23645;transform:scaleX(0.9181);-webkit-text-stroke:0.25px #f23645;">(−0.09%)</div>
<div class="t" style="left:11.02px;top:27px;font-size:8.8px;line-height:8.8px;color:#f23645;transform:scaleX(0.9408);-webkit-text-stroke:0.15px #f23645;">1.0512</div>
<div class="t" style="left:35.90px;top:27px;font-size:6.4px;line-height:6.4px;color:#f23645;transform:scaleX(1.0000);">2</div>
<div class="t" style="left:50.02px;top:27px;font-size:7.8px;line-height:7.8px;color:#d1d4dc;transform:scaleX(0.9050);-webkit-text-stroke:0.1px #d1d4dc;">0.1</div>
<div class="t" style="left:71.00px;top:27px;font-size:8.8px;line-height:8.8px;color:#3a6cf6;transform:scaleX(0.8970);-webkit-text-stroke:0.15px #3a6cf6;">1.0512</div>
<div class="t" style="left:95.30px;top:27px;font-size:6.4px;line-height:6.4px;color:#3a6cf6;transform:scaleX(1.0000);">3</div>
<div class="t" style="left:5.99px;top:46px;font-size:9.0px;line-height:9.0px;color:#d1d4dc;transform:scaleX(0.8500);-webkit-text-stroke:0.15px #d1d4dc;">Vol</div>
<div class="t" style="left:27.04px;top:46px;font-size:8.8px;line-height:8.8px;color:#ef5350;transform:scaleX(0.9068);-webkit-text-stroke:0.15px #ef5350;">84.349K</div>
<div class="t" style="left:325.01px;top:25px;font-size:11.6px;line-height:11.6px;color:#f0f3fa;transform:scaleX(1.0177);-webkit-text-stroke:0.15px #f0f3fa;">www.nehcap.com</div>
<div class="t" style="left:673.02px;top:11px;font-size:8.6px;line-height:8.6px;color:#b2b5be;transform:scaleX(0.8524);-webkit-text-stroke:0.1px #b2b5be;">1.09000</div>
<div class="t" style="left:673.02px;top:49px;font-size:8.6px;line-height:8.6px;color:#b2b5be;transform:scaleX(0.8524);-webkit-text-stroke:0.1px #b2b5be;">1.08000</div>
<div class="t" style="left:673.02px;top:87px;font-size:8.6px;line-height:8.6px;color:#b2b5be;transform:scaleX(0.8524);-webkit-text-stroke:0.1px #b2b5be;">1.07000</div>
<div class="t" style="left:673.02px;top:125px;font-size:8.6px;line-height:8.6px;color:#b2b5be;transform:scaleX(0.8524);-webkit-text-stroke:0.1px #b2b5be;">1.06000</div>
<div class="t" style="left:673.02px;top:201px;font-size:8.6px;line-height:8.6px;color:#b2b5be;transform:scaleX(0.8524);-webkit-text-stroke:0.1px #b2b5be;">1.04000</div>
<div class="t" style="left:673.02px;top:239px;font-size:8.6px;line-height:8.6px;color:#b2b5be;transform:scaleX(0.8524);-webkit-text-stroke:0.1px #b2b5be;">1.03000</div>
<div class="t" style="left:673.02px;top:277px;font-size:8.6px;line-height:8.6px;color:#b2b5be;transform:scaleX(0.8524);-webkit-text-stroke:0.1px #b2b5be;">1.02000</div>
<div class="t" style="left:673.02px;top:315px;font-size:8.6px;line-height:8.6px;color:#b2b5be;transform:scaleX(0.8524);-webkit-text-stroke:0.1px #b2b5be;">1.01000</div>
<div class="t" style="left:673.02px;top:353px;font-size:8.6px;line-height:8.6px;color:#b2b5be;transform:scaleX(0.8524);-webkit-text-stroke:0.1px #b2b5be;">1.00000</div>
<div class="t" style="left:672.47px;top:391px;font-size:8.6px;line-height:8.6px;color:#b2b5be;transform:scaleX(0.8843);-webkit-text-stroke:0.1px #b2b5be;">0.99000</div>
<div class="t" style="left:672.47px;top:429px;font-size:8.6px;line-height:8.6px;color:#b2b5be;transform:scaleX(0.8843);-webkit-text-stroke:0.1px #b2b5be;">0.98000</div>
<div class="t" style="left:672.47px;top:467px;font-size:8.6px;line-height:8.6px;color:#b2b5be;transform:scaleX(0.8843);-webkit-text-stroke:0.1px #b2b5be;">0.97000</div>
<div class="t" style="left:672.47px;top:505px;font-size:8.6px;line-height:8.6px;color:#b2b5be;transform:scaleX(0.8843);-webkit-text-stroke:0.1px #b2b5be;">0.96000</div>
<div class="t" style="left:672.47px;top:543px;font-size:8.6px;line-height:8.6px;color:#b2b5be;transform:scaleX(0.8843);-webkit-text-stroke:0.1px #b2b5be;">0.95000</div>
<div class="t" style="left:263.59px;top:586px;font-size:8.8px;line-height:8.8px;color:#b2b5be;transform:scaleX(0.7634);-webkit-text-stroke:0.1px #b2b5be;">Sep</div>
<div class="t" style="left:349.57px;top:586px;font-size:8.8px;line-height:8.8px;color:#b2b5be;transform:scaleX(0.8861);-webkit-text-stroke:0.1px #b2b5be;">Oct</div>
<div class="t" style="left:430.52px;top:586px;font-size:8.8px;line-height:8.8px;color:#b2b5be;transform:scaleX(0.8017);-webkit-text-stroke:0.1px #b2b5be;">Nov</div>
<div class="t" style="left:516.54px;top:586px;font-size:8.8px;line-height:8.8px;color:#b2b5be;transform:scaleX(0.7772);-webkit-text-stroke:0.1px #b2b5be;">Dec</div>
<div class="t" style="left:600.48px;top:586px;font-size:8.6px;line-height:8.6px;color:#d1d4dc;font-weight:bold;transform:scaleX(0.8855);">2023</div>
<div class="abs" style="left:665.8px;top:157px;width:40.9px;height:20.9px;background:#f23645;border-radius:1.5px;"></div>
<div class="abs" style="left:665.8px;top:562.1px;width:38.4px;height:11.8px;background:#ef5350;border-radius:1.5px;"></div>
<div class="t" style="left:673.00px;top:159px;font-size:8.5px;line-height:8.5px;color:#ffffff;transform:scaleX(0.8456);-webkit-text-stroke:0.05px #ffffff;">1.05122</div><div class="t" style="left:673.06px;top:168px;font-size:8.5px;line-height:8.5px;color:#fbd3d6;transform:scaleX(0.8882);-webkit-text-stroke:0.1px #fbd3d6;">11:43:58</div>
<div class="t" style="left:672.58px;top:564px;font-size:8.6px;line-height:8.6px;color:#ffffff;transform:scaleX(0.8756);-webkit-text-stroke:0.15px #ffffff;">84.349K</div>
<div class="abs" style="left:659px;top:586px;width:6.2px;height:12px;overflow:hidden;"><div style="position:absolute;left:0;top:0;font-size:8.6px;line-height:8.6px;color:#b2b5be;transform:scaleX(0.9);transform-origin:0 0;">2023</div></div>
<svg class="abs" style="left:680.5px;top:583.2px" width="15" height="15" viewBox="0 0 15 15"><circle cx="7.5" cy="7.5" r="3.5" fill="none" stroke="#b2b5be" stroke-width="0.9"/><g stroke="#b2b5be" stroke-width="0.9"><path d="M7.5 2.4V3.8M7.5 11.2V12.6M2.4 7.5H3.8M11.2 7.5H12.6M3.9 3.9L4.9 4.9M10.1 10.1L11.1 11.1M3.9 11.1L4.9 10.1M10.1 4.9L11.1 3.9"/></g></svg>

<svg class="abs" style="left:616px;top:530px" width="18" height="52" viewBox="616 530 18 52">
 <circle cx="624.5" cy="538.2" r="6.3" fill="#141823" stroke="#ab47bc" stroke-width="1.2"/>
 <path d="M626.0 534.2 L621.6 539.0 H624.3 L623.0 542.3 L627.4 537.5 H624.7 Z" fill="#b04cc2"/>
 <circle cx="624.5" cy="554.6" r="6.4" fill="#141823" stroke="#e0323f" stroke-width="1.2"/>
 <circle cx="624.5" cy="554.6" r="5.0" fill="#1b60c6"/>
 <circle cx="624.5" cy="554.6" r="3.0" fill="none" stroke="#f2d555" stroke-width="1.1" stroke-dasharray="1 0.76"/>
 <circle cx="624.5" cy="571.2" r="6.4" fill="#141823" stroke="#e0323f" stroke-width="1.2"/>
 <clipPath id="usc"><circle cx="624.5" cy="571.2" r="4.7"/></clipPath>
 <g clip-path="url(#usc)">
  <rect x="619" y="566" width="11" height="11" fill="#f4f4f6"/>
  <rect x="619" y="568.2" width="11" height="1.2" fill="#e0323f"/>
  <rect x="619" y="570.6" width="11" height="1.2" fill="#e0323f"/>
  <rect x="619" y="573" width="11" height="1.2" fill="#e0323f"/>
  <rect x="619" y="575.2" width="11" height="1.2" fill="#e0323f"/>
  <rect x="619" y="566" width="5.5" height="5" fill="#2a57c2"/>
 </g>
</svg>

<div id="ad">
  <div style="position:absolute;left:-10px;top:85.5px;width:64.2px;height:30px;border:1px solid #2148b4;border-radius:4px;"></div>
  <div style="position:absolute;left:161px;top:8px;width:65px;height:68.5px;background:#fff;"></div>
  <svg style="position:absolute;left:161px;top:8px" width="65" height="69" viewBox="0 0 65 69">
    <path d="M8.6 19.5 C8.6 14.5 11.5 12 16.1 12.05 C28 12.3 44 17.6 53.5 25 C57.2 27.9 57.3 30.6 55.6 33.4 C51.5 41 45 49 38.5 53.6 C34.5 56.5 30.5 57.4 27.5 57 C23.5 56.4 20.5 54 18 49.5 C13 40.5 8.6 27 8.6 19.5 Z" fill="#0a68f5"/>
    <path d="M18.6 21.2 H33.7 C39.5 21.2 43.1 25.5 43.1 31.8 C43.1 38 39.5 42.4 33.7 42.4 H30.1 V49.9 H24.3 V26 H16.8 Z M30.1 28.5 V36.1 H33.2 C35.8 36.1 37.3 34.7 37.3 32.3 C37.3 29.9 35.8 28.5 33.2 28.5 Z" fill="#fff" fill-rule="evenodd"/>
  </svg>
  <div style="position:absolute;left:213.3px;top:7.4px;width:13.8px;height:13.8px;background:#363a45;border-radius:2px;"></div>
  <svg style="position:absolute;left:213.3px;top:7.4px" width="14" height="14" viewBox="0 0 14 14"><path d="M4.3 4.3L9.6 9.6M9.6 4.3L4.3 9.6" stroke="#868993" stroke-width="0.8"/></svg>
</div>
<div class="t" style="left:-17.08px;top:518px;font-size:9.5px;line-height:9.5px;color:#d1d4dc;font-weight:bold;transform:scaleX(0.9522);">Get more from FX trading with</div>
<div class="t" style="left:-15.27px;top:532px;font-size:9.5px;line-height:9.5px;color:#d1d4dc;font-weight:bold;transform:scaleX(0.8602);">Pepperstone</div>
<div class="t" style="left:-15.82px;top:551px;font-size:9.0px;line-height:9.0px;color:#d1d4dc;transform:scaleX(0.9659);-webkit-text-stroke:0.15px #d1d4dc;">With our low spreads to fast execution, trade</div>
<div class="t" style="left:-15.59px;top:564px;font-size:9.0px;line-height:9.0px;color:#d1d4dc;transform:scaleX(0.9720);-webkit-text-stroke:0.15px #d1d4dc;">the world’s forex markets confidently with a</div>
<div class="t" style="left:-17.08px;top:577px;font-size:9.0px;line-height:9.0px;color:#d1d4dc;transform:scaleX(0.9511);-webkit-text-stroke:0.15px #d1d4dc;">regulated broker.</div>
<div class="t" style="left:-14.26px;top:596px;font-size:9.5px;line-height:9.5px;color:#2f5fe0;font-weight:bold;transform:scaleX(0.9665);">Find out more</div>
</body></html>
